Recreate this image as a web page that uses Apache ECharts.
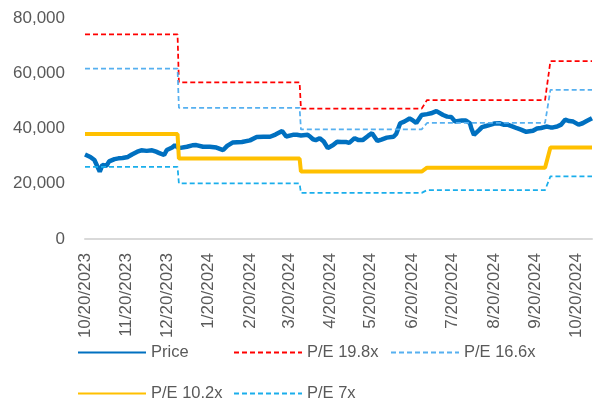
<!DOCTYPE html>
<html>
<head>
<meta charset="utf-8">
<script src="https://cdn.jsdelivr.net/npm/echarts@6/dist/echarts.min.js"></script>
<style>
html,body{margin:0;padding:0;background:#fff;}
#chart{width:596px;height:403px;}
</style>
</head>
<body>
<div id="chart"></div>
<script>
// ---- data ----
const priceDates = ['2023-10-20','2023-10-24','2023-10-27','2023-10-31','2023-11-02','2023-11-05','2023-11-07','2023-11-11','2023-11-14','2023-11-17','2023-11-21','2023-11-24','2023-11-28','2023-12-01','2023-12-05','2023-12-09','2023-12-12','2023-12-14','2023-12-18','2023-12-20','2023-12-24','2023-12-26','2023-12-29','2024-01-04','2024-01-08','2024-01-11','2024-01-16','2024-01-21','2024-01-26','2024-01-31','2024-02-03','2024-02-07','2024-02-14','2024-02-20','2024-02-25','2024-03-01','2024-03-06','2024-03-10','2024-03-15','2024-03-18','2024-03-23','2024-03-26','2024-03-29','2024-04-03','2024-04-05','2024-04-07','2024-04-09','2024-04-12','2024-04-15','2024-04-18','2024-04-22','2024-04-25','2024-04-28','2024-05-02','2024-05-04','2024-05-08','2024-05-11','2024-05-14','2024-05-18','2024-05-21','2024-05-25','2024-05-28','2024-06-01','2024-06-06','2024-06-08','2024-06-11','2024-06-14','2024-06-18','2024-06-20','2024-06-23','2024-06-24','2024-06-27','2024-07-01','2024-07-04','2024-07-08','2024-07-13','2024-07-16','2024-07-19','2024-07-22','2024-07-27','2024-07-30','2024-08-02','2024-08-03','2024-08-05','2024-08-09','2024-08-11','2024-08-14','2024-08-17','2024-08-20','2024-08-24','2024-08-27','2024-08-30','2024-09-03','2024-09-06','2024-09-09','2024-09-13','2024-09-18','2024-09-21','2024-09-24','2024-09-28','2024-10-01','2024-10-03','2024-10-06','2024-10-09','2024-10-12','2024-10-15','2024-10-18','2024-10-22','2024-10-25','2024-10-28','2024-11-01'];
const priceValues = [30600,29700,28600,24400,26800,26500,28100,28900,29200,29300,29700,30600,31600,32100,31900,32100,31600,31200,30400,32200,33100,33900,32900,33400,33900,34000,33400,33400,33100,32200,33700,34900,35100,35700,36900,37000,37000,37800,39100,37100,37700,37700,37500,37700,37000,36100,35800,36500,35300,32900,34000,35200,35100,35100,34800,36500,35800,35800,37300,38300,35500,36000,36700,37000,38000,41900,42500,43600,43100,42000,41300,44900,45200,45500,46300,44900,44300,44200,42500,42900,42900,41900,40100,37700,39500,40500,40900,41300,41800,41900,41400,41400,40700,40100,39600,38800,39200,40000,40200,40700,40400,40400,40700,41400,43200,42700,42500,41400,41900,42700,43700];

const periodStarts = ['2023-10-20','2023-12-29','2024-03-29','2024-07-01','2024-10-01'];
const periodEnds   = ['2023-12-28','2024-03-28','2024-06-27','2024-09-27','2024-11-01'];
const pe198 = [74100,56700,47200,50300,64400];
const pe166 = [61700,47500,39700,42000,54000];
const pe102 = [38000,29100,24400,25800,33100];
const pe7   = [26100,20100,16700,17700,22700];

const tickLabels = ['2023-10-20','2023-11-20','2023-12-20','2024-01-20','2024-02-20','2024-03-20','2024-04-20','2024-05-20','2024-06-20','2024-07-20','2024-08-20','2024-09-20','2024-10-20'];
const seriesNames = ['Price','P/E 19.8x','P/E 16.6x','P/E 10.2x','P/E 7x'];

// ---- helpers ----
function ts(s){const p=s.split('-').map(Number);return Date.UTC(p[0],p[1]-1,p[2]);}
function stepData(levels){
  const out=[];
  for(let i=0;i<levels.length;i++){
    out.push([ts(periodStarts[i]),levels[i]]);
    out.push([ts(periodEnds[i]),levels[i]]);
  }
  return out;
}
const priceData = priceDates.map((d,i)=>[ts(d),priceValues[i]]);
const txt = '#595959';
const font = "'Liberation Sans', Arial, sans-serif";

// legend slots (layout only)
const legendSlots = [[77,344],[233,344],[390,344],[77,385],[233,385]];
const legends = seriesNames.map((n,i)=>({
  data:[n],left:legendSlots[i][0],top:legendSlots[i][1],padding:0,
  itemWidth:68,itemHeight:16,
  itemStyle:{opacity:0},
  textStyle:{color:txt,fontSize:16.5,fontFamily:font}
}));

const chart = echarts.init(document.getElementById('chart'), null, {renderer:'canvas'});
chart.setOption({
  animation:false,
  backgroundColor:'#ffffff',
  grid:{left:85,right:4,top:18,bottom:164,containLabel:false},
  legend:legends,
  xAxis:{
    type:'value',
    min:ts(priceDates[0]),
    max:ts(priceDates[priceDates.length-1]),
    axisLine:{show:true,onZero:false,lineStyle:{color:'#D9D9D9',width:2}},
    axisTick:{show:false},
    splitLine:{show:false},
    axisLabel:{
      customValues:tickLabels.map(ts),
      rotate:90,
      margin:14,
      color:txt,fontSize:17,fontFamily:font,
      showMinLabel:true,showMaxLabel:true,hideOverlap:false,
      formatter:function(v){const d=new Date(v);return (d.getUTCMonth()+1)+'/'+d.getUTCDate()+'/'+d.getUTCFullYear();}
    }
  },
  yAxis:{
    type:'value',min:0,max:80000,interval:20000,
    axisLine:{show:false},axisTick:{show:false},splitLine:{show:false},
    axisLabel:{color:txt,fontSize:17,fontFamily:font,margin:20,
      formatter:function(v){return v.toLocaleString('en-US');}}
  },
  series:[
    {name:'Price',type:'line',data:priceData,showSymbol:false,symbol:'none',
     lineStyle:{color:'#0070C0',width:4.5},itemStyle:{color:'#0070C0'}},
    {name:'P/E 19.8x',type:'line',data:stepData(pe198),showSymbol:false,symbol:'none',
     lineStyle:{color:'#FF0000',width:1.75,type:[5,3]},itemStyle:{color:'#FF0000'}},
    {name:'P/E 16.6x',type:'line',data:stepData(pe166),showSymbol:false,symbol:'none',
     lineStyle:{color:'#56B0F0',width:1.75,type:[5,3]},itemStyle:{color:'#56B0F0'}},
    {name:'P/E 10.2x',type:'line',data:stepData(pe102),showSymbol:false,symbol:'none',
     lineStyle:{color:'#FFC000',width:4},itemStyle:{color:'#FFC000'}},
    {name:'P/E 7x',type:'line',data:stepData(pe7),showSymbol:false,symbol:'none',
     lineStyle:{color:'#1AAEEB',width:1.75,type:[5,3]},itemStyle:{color:'#1AAEEB'}}
  ]
});
</script>
</body>
</html>
